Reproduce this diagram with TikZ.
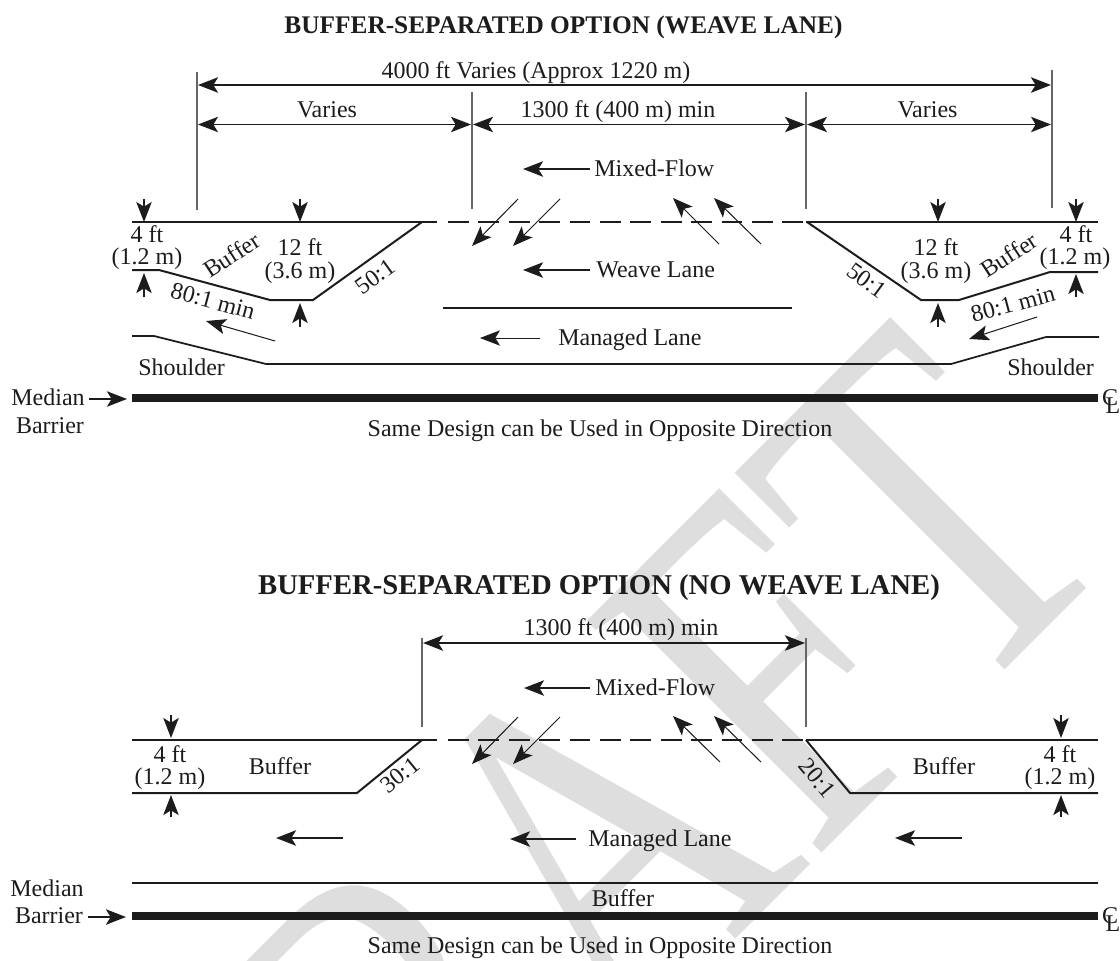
\documentclass[tikz,border=0pt]{standalone}
\usepackage{fontspec}
\setmainfont{Liberation Serif}
\usetikzlibrary{arrows.meta}
\definecolor{ink}{HTML}{1C1C1C}
\definecolor{wm}{HTML}{DEDEDE}
\tikzset{
  txt/.style={inner sep=0pt,text=ink,font=\fontsize{18pt}{20pt}\selectfont,anchor=base},
  lft/.style={txt,anchor=base west},
  ttl/.style={inner sep=0pt,text=ink,font=\fontsize{19pt}{24pt}\selectfont\bfseries,anchor=base},
  ttlb/.style={inner sep=0pt,text=ink,font=\fontsize{21.5pt}{24pt}\selectfont\bfseries,anchor=base},
  rot/.style={txt,anchor=center,rotate=#1},
  road/.style={draw=ink,line width=1.5pt,line join=miter},
  thinroad/.style={draw=ink,line width=1.3pt},
  barrier/.style={draw=ink,line width=6pt},
  ext/.style={draw=black!60,line width=0.85pt},
  dashroad/.style={draw=ink,line width=1.5pt,dash pattern=on 15.6pt off 7.2pt},
  head/.style={-{Stealth[length=15pt,width=11.5pt,inset=3.5pt]}},
  heads/.style={{Stealth[length=15pt,width=11.5pt,inset=3.5pt]}-{Stealth[length=15pt,width=11.5pt,inset=3.5pt]}},
  tick/.style={head,draw=ink,fill=ink,line width=1.4pt},
  dim/.style={heads,draw=ink,fill=ink,line width=1.9pt},
  dimthin/.style={heads,draw=ink,fill=ink,line width=1.1pt},
  flow/.style={head,draw=ink,fill=ink,line width=1.8pt},
  flowthin/.style={head,draw=ink,fill=ink,line width=0.75pt},
}
\begin{document}
\begin{tikzpicture}[x=0.75pt,y=-0.75pt]
\useasboundingbox (0,0) rectangle (1120,960);
\clip (0,0) rectangle (1120,960);
% watermark
\begin{scope}[shift={(685.5,989.5)},rotate=45,xscale=0.758]
\node[transform shape,inner sep=0pt,anchor=base,text=wm,font=\fontsize{378pt}{400pt}\selectfont] (wmark) at (0,0) {DRAFT};
\end{scope}
%%% upper diagram
\node[ttl] (t1) at (563.5,33) {BUFFER-SEPARATED OPTION (WEAVE LANE)};
\draw[ext] (197,72) -- (197,210);
\draw[ext] (1052,70) -- (1052,208);
\draw[ext] (472,92) -- (472,209);
\draw[ext] (806,92) -- (806,209);
\node[txt] (a1) at (536,78) {4000 ft Varies (Approx 1220 m)};
\draw[dim] (198,85) -- (1051,85);
\node[txt] (a2) at (327,117) {Varies};
\node[txt] (a3) at (618,117) {1300 ft (400 m) min};
\node[txt] (a4) at (927.5,117) {Varies};
\draw[dimthin] (198,124.5) -- (471,124.5);
\draw[dimthin] (473,124.5) -- (805,124.5);
\draw[dimthin] (807,124.5) -- (1051,124.5);
% road edges
\draw[road] (132,222) -- (437,222);
\draw[dashroad] (448,222) -- (803,222);
\draw[road] (806,222) -- (1098,222);
\draw[road] (132,270) -- (159,270) -- (270,300) -- (313,300) -- (422,222);
\draw[road] (807,222) -- (921,300) -- (959,300) -- (1050,272) -- (1098,272);
\draw[road] (443,308) -- (792,308);
\draw[thinroad] (132,336) -- (154,336) -- (266,364) -- (951,364) -- (1046,337) -- (1099,337);
\draw[barrier] (132,398) -- (1098,398);
% ticks
\draw[tick] (144,199) -- (144,222);
\draw[tick] (300,199) -- (300,222);
\draw[tick] (938,199) -- (938,222);
\draw[tick] (1076,199) -- (1076,222);
\draw[tick] (144,297) -- (144,273);
\draw[tick] (300,327) -- (300,303);
\draw[tick] (938,327) -- (938,303);
\draw[tick] (1076,297) -- (1076,274);
% flow arrows
\draw[flow] (590,169) -- (523,169);
\node[lft] (m1) at (594,176) {Mixed-Flow};
\draw[flow] (590,270) -- (523,270);
\node[lft] (w1) at (596,277) {Weave Lane};
\draw[flowthin] (518,199) -- (472,246);
\draw[flowthin] (560,199) -- (513,246);
\draw[flowthin] (719,244) -- (673,198);
\draw[flowthin] (761,244) -- (714,198);
\draw[flowthin] (540,338) -- (480,338);
\node[lft] (l1) at (558,345) {Managed Lane};
\draw[flowthin] (275,341) -- (206,321);
\draw[flowthin] (1037,317) -- (969,339);
% labels
\node[txt] (b1) at (147,242) {4 ft};
\node[txt] (b2) at (147,264) {(1.2 m)};
\node[txt] (b3) at (300,255) {12 ft};
\node[txt] (b4) at (300,278) {(3.6 m)};
\node[txt] (b5) at (936,255) {12 ft};
\node[txt] (b6) at (936,278) {(3.6 m)};
\node[txt] (b7) at (1076,242) {4 ft};
\node[txt] (b8) at (1075,264) {(1.2 m)};
\node[rot=33] (c1) at (232,255) {Buffer};
\node[rot=33] (c2) at (1009,255) {Buffer};
\node[rot=36] (c3) at (375,277) {50:1};
\node[rot=-36] (c4) at (867,281) {50:1};
\node[rot=-15] (c5) at (213,301) {80:1 min};
\node[rot=15] (c6) at (1013,304) {80:1 min};
\node[lft] (s1) at (138,375) {Shoulder};
\node[lft] (s2) at (1007,375) {Shoulder};
\node[txt] (me1) at (48,405) {Median};
\node[txt] (ba1) at (50,433) {Barrier};
\draw[flow] (89,399) -- (127,399);
\node[txt] (cc1) at (1110,405) {C};
\node[txt] (cl1) at (1113,413) {L};
\node[txt] (sd1) at (600,436) {Same Design can be Used in Opposite Direction};
%%% lower diagram
\node[ttlb] (t2) at (599,594) {BUFFER-SEPARATED OPTION (NO WEAVE LANE)};
\draw[ext] (422,638) -- (422,727);
\draw[ext] (806,638) -- (806,727);
\node[txt] (a5) at (621,635) {1300 ft (400 m) min};
\draw[dim] (423,643) -- (805,643);
\draw[road] (132,740) -- (437,740);
\draw[dashroad] (448,740) -- (803,740);
\draw[road] (806,740) -- (1098,740);
\draw[road] (132,793) -- (357,793) -- (422,740);
\draw[road] (806,740) -- (850,793) -- (1098,793);
\draw[thinroad] (132,883) -- (1098,883);
\draw[barrier] (132,916) -- (1098,916);
\draw[tick] (171,715) -- (171,738);
\draw[tick] (1061,715) -- (1061,738);
\draw[tick] (171,817) -- (171,795);
\draw[tick] (1061,817) -- (1061,795);
\draw[flow] (590,688) -- (524,688);
\node[lft] (m2) at (595,695) {Mixed-Flow};
\draw[flowthin] (518,717) -- (472,764);
\draw[flowthin] (560,717) -- (513,764);
\draw[flowthin] (720,762) -- (673,716);
\draw[flowthin] (761,762) -- (714,716);
\draw[flow] (343,838) -- (276,838);
\draw[flow] (962,838) -- (895,838);
\draw[flow] (576,839) -- (510,839);
\node[lft] (l2) at (588,846) {Managed Lane};
\node[txt] (d1) at (170,762) {4 ft};
\node[txt] (d2) at (170,784) {(1.2 m)};
\node[txt] (d3) at (1060,762) {4 ft};
\node[txt] (d4) at (1060,784) {(1.2 m)};
\node[txt] (d5) at (280,774) {Buffer};
\node[txt] (d6) at (944,774) {Buffer};
\node[rot=39] (e1) at (400,775) {30:1};
\node[rot=-50] (e2) at (817,778) {20:1};
\node[txt] (d7) at (623,906) {Buffer};
\node[txt] (me2) at (47,896) {Median};
\node[txt] (ba2) at (49,923) {Barrier};
\draw[flow] (88,917) -- (126,917);
\node[txt] (cc2) at (1110,923) {C};
\node[txt] (cl2) at (1113,931) {L};
\node[txt] (sd2) at (600,953) {Same Design can be Used in Opposite Direction};
\end{tikzpicture}
\end{document}
